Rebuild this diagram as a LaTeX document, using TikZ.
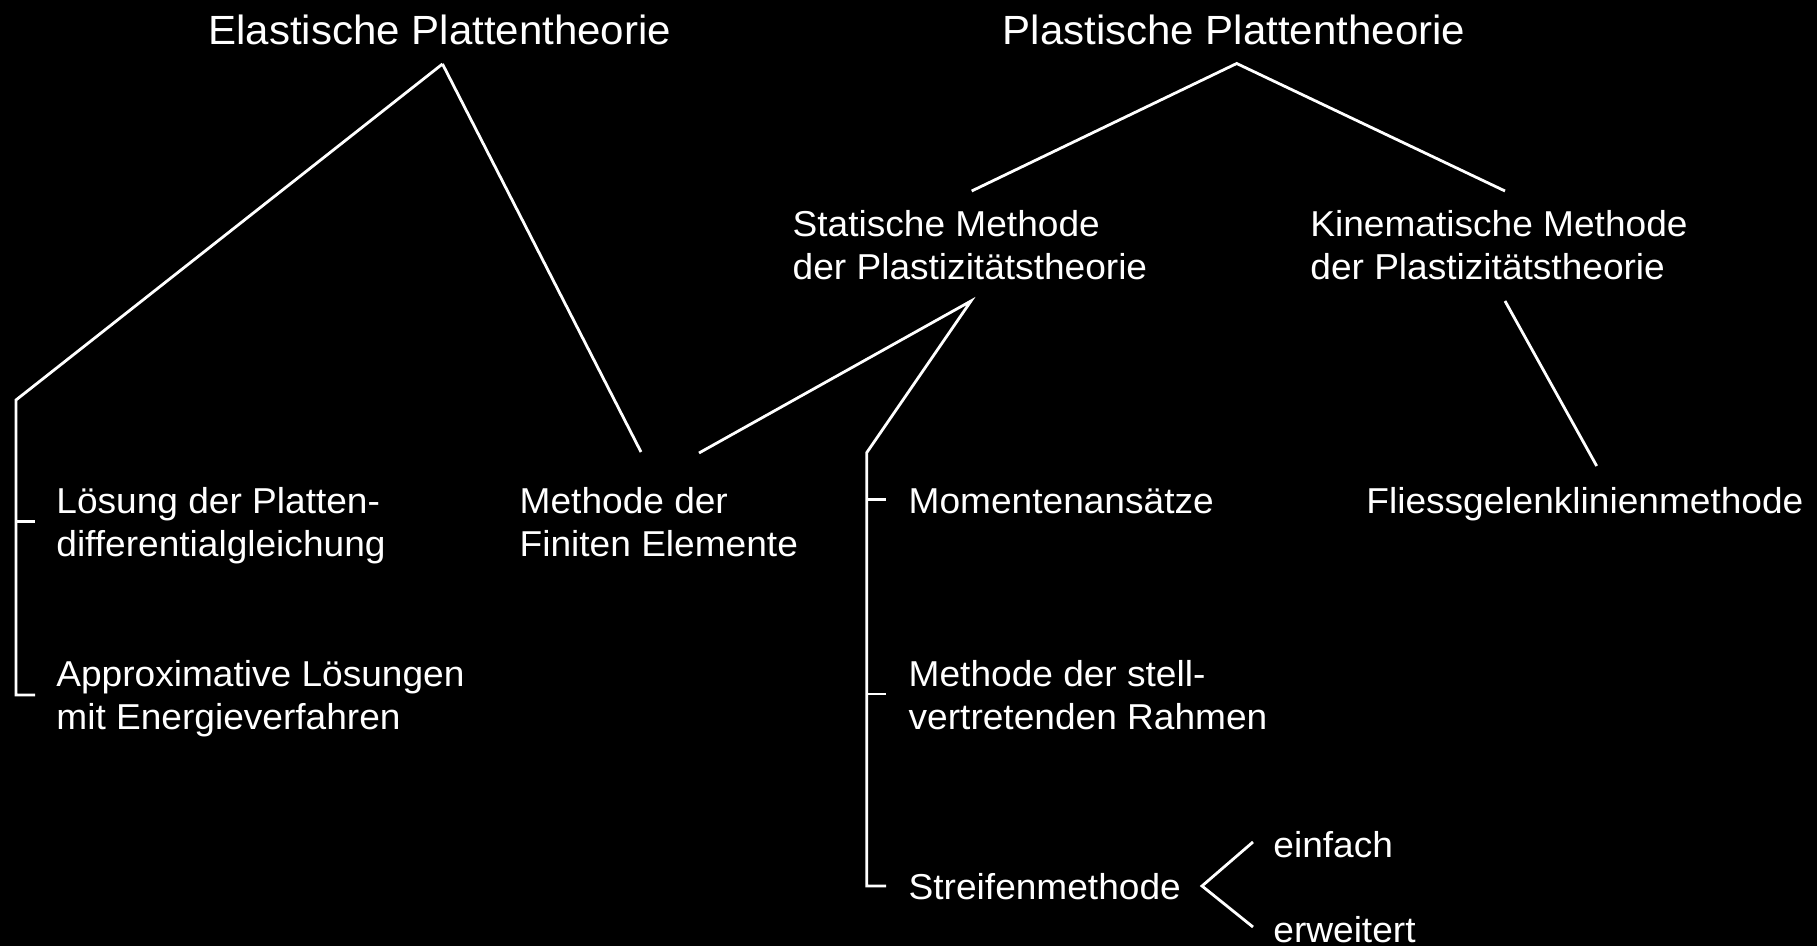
\documentclass[tikz,border=0pt]{standalone}
\usepackage{fontspec}
\setmainfont{Liberation Sans}[FakeStretch=1.03]
\newcommand\diagbody{\fontsize{18pt}{21.65pt}\selectfont}
\newcommand\diagtitle{\fontsize{20.4pt}{24pt}\selectfont}
\begin{document}
\begin{tikzpicture}[x=0.5pt,y=-0.5pt,
  conn/.style={draw=white,line width=1.4pt},
  lbl/.style={text=white,inner sep=0pt,anchor=base west,font=\diagbody},
  ttl/.style={text=white,inner sep=0pt,anchor=base,font=\diagtitle}]
\fill[black] (0,0) rectangle (1817,946);
\useasboundingbox (0,0) rectangle (1817,946);

% titles
\node[ttl] (ela) at (439.8,44.5) {Elastische Plattentheorie};
\node[ttl] (pla) at (1233.9,44.5) {Plastische Plattentheorie};

% text nodes
\node[lbl] (loes) at (56,513.5) {\begin{tabular}[t]{@{}l@{}}Lösung der Platten-\\differentialgleichung\end{tabular}};
\node[lbl] (appr) at (56,686.5) {\begin{tabular}[t]{@{}l@{}}Approximative Lösungen\\mit Energieverfahren\end{tabular}};
\node[lbl] (fem) at (519.3,513.5) {\begin{tabular}[t]{@{}l@{}}Methode der\\Finiten Elemente\end{tabular}};
\node[lbl] (stat) at (792.3,236.5) {\begin{tabular}[t]{@{}l@{}}Statische Methode\\der Plastizitätstheorie\end{tabular}};
\node[lbl] (kin) at (1310,236.5) {\begin{tabular}[t]{@{}l@{}}Kinematische Methode\\der Plastizitätstheorie\end{tabular}};
\node[lbl] (mom) at (908.3,513.5) {Momentenansätze};
\node[lbl] (fgl) at (1366,513.5) {Fliessgelenklinienmethode};
\node[lbl] (rahm) at (908.3,686.5) {\begin{tabular}[t]{@{}l@{}}Methode der stell-\\vertretenden Rahmen\end{tabular}};
\node[lbl] (streif) at (908.3,899.5) {Streifenmethode};
\node[lbl] (einf) at (1273,857.5) {einfach};
\node[lbl] (erw) at (1273,942) {erweitert};

% junction points
\coordinate (elaTop) at (442.5,64);
\coordinate (elaL) at (16,400);
\coordinate (elaR) at (641,452);
\coordinate (loesT) at (35,521.7);
\coordinate (apprT) at (35,695);
\coordinate (plaTop) at (1236.7,63.5);
\coordinate (plaL) at (971.7,191);
\coordinate (plaR) at (1505,191);
\coordinate (statBot) at (971,301);
\coordinate (statFem) at (699,453);
\coordinate (statV) at (866.7,452.7);
\coordinate (momT) at (886,499.5);
\coordinate (rahmT) at (886,694);
\coordinate (streifT) at (886,886);
\coordinate (kinBot) at (1505,301);
\coordinate (kinEnd) at (1596.7,466);
\coordinate (chevA) at (1202,886);
\coordinate (chevU) at (1253,842);
\coordinate (chevD) at (1253,927);

% connectors
\draw[conn] (elaTop) -- (elaL) -- (elaL |- apprT) -- (apprT);
\draw[conn] (elaL |- loesT) -- (loesT);
\draw[conn] (elaTop) -- (elaR);
\draw[conn] (plaL) -- (plaTop) -- (plaR);
\draw[conn] (statFem) -- (statBot) -- (statV) -- (statV |- streifT) -- (streifT);
\draw[conn] (statV |- momT) -- (momT);
\draw[conn] (statV |- rahmT) -- (rahmT);
\draw[conn] (kinBot) -- (kinEnd);
\draw[conn] (chevU) -- (chevA) -- (chevD);
\end{tikzpicture}
\end{document}
